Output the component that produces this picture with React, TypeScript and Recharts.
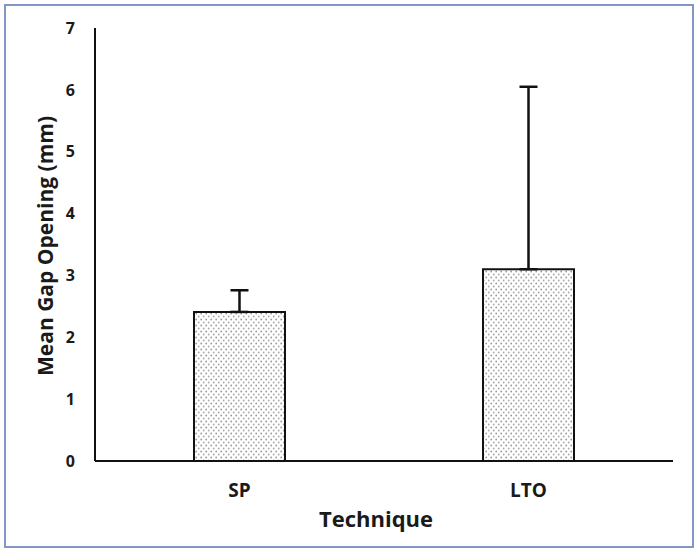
import React from "react";
import { BarChart, Bar, XAxis, YAxis, ErrorBar, Label } from "recharts";

const categories = ["SP", "LTO"];
const meanValues = [2.41, 3.1];
const upperErrors = [0.35, 2.95];
const yTicks = [0, 1, 2, 3, 4, 5, 6, 7];

const data = categories.map((c, i) => ({
  name: c,
  value: meanValues[i],
  err: [0, upperErrors[i]],
}));

const FONT = "'Open Sans', sans-serif";

const YLabel = (props: any) => {
  const vb = props.viewBox || {};
  const cy = 246;
  const cx = 45;
  return (
    <text
      x={cx}
      y={cy}
      transform={`rotate(-90, ${cx}, ${cy})`}
      textAnchor="middle"
      dominantBaseline="central"
      fontFamily={FONT}
      fontWeight={700}
      fontSize={21}
      fill="#1a1a1a"
    >
      Mean Gap Opening (mm)
    </text>
  );
};

const XLabel = (props: any) => {
  const vb = props.viewBox || {};
  const cx = 376;
  return (
    <text
      x={cx}
      y={518}
      textAnchor="middle"
      dominantBaseline="central"
      fontFamily={FONT}
      fontWeight={700}
      fontSize={22}
      fill="#1a1a1a"
    >
      Technique
    </text>
  );
};

export default function App() {
  return (
    <div style={{ position: "absolute", left: 0, top: 0, width: 700, height: 554, background: "#fff" }}>
      <div
        style={{
          position: "absolute",
          left: 4,
          top: 4,
          width: 686,
          height: 540,
          border: "2px solid #8497c4",
        }}
      />
      <div style={{ position: "absolute", left: 0, top: 0 }}>
        <BarChart
          width={700}
          height={554}
          data={data}
          margin={{ top: 28, right: 27, left: 0, bottom: 33 }}
          barSize={91}
        >
          <defs>
            <pattern id="dots" width="5" height="6" patternUnits="userSpaceOnUse">
              <rect width="5" height="6" fill="#ffffff" />
              <circle cx="1.2" cy="1.5" r="0.9" fill="#9a9a9a" />
              <circle cx="3.7" cy="4.5" r="0.9" fill="#a8a8a8" />
            </pattern>
          </defs>
          <XAxis
            dataKey="name"
            height={60}
            axisLine={{ stroke: "#111", strokeWidth: 2 }}
            tickLine={false}
            tickSize={0}
            tickMargin={23}
            tick={{ fontFamily: FONT, fontWeight: 700, fontSize: 19, fill: "#1a1a1a" }}
          >
            <Label content={<XLabel />} />
          </XAxis>
          <YAxis
            width={95}
            domain={[0, 7]}
            ticks={yTicks}
            interval={0}
            axisLine={{ stroke: "#111", strokeWidth: 2 }}
            tickLine={false}
            tickSize={0}
            tickMargin={20}
            tick={{ fontFamily: FONT, fontWeight: 700, fontSize: 16, fill: "#1a1a1a" }}
          >
            <Label content={<YLabel />} />
          </YAxis>
          <Bar
            dataKey="value"
            fill="url(#dots)"
            stroke="#111"
            strokeWidth={2}
            isAnimationActive={false}
          >
            <ErrorBar
              dataKey="err"
              direction="y"
              width={9}
              stroke="#111"
              strokeWidth={2.5}
              isAnimationActive={false}
            />
          </Bar>
        </BarChart>
      </div>
    </div>
  );
}
